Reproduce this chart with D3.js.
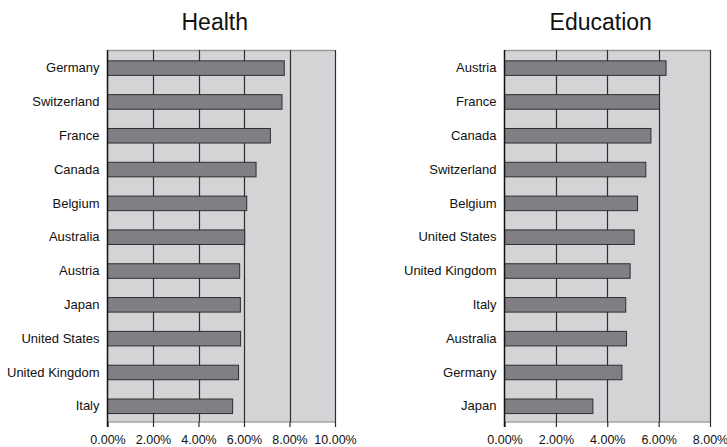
<!DOCTYPE html>
<html>
<head>
<meta charset="utf-8">
<script src="https://cdn.jsdelivr.net/npm/d3@7"></script>
<style>
  html, body { margin: 0; padding: 0; background: #fff; }
  svg { display: block; }
  text { font-family: "Liberation Sans", Arial, sans-serif; fill: #111; }
</style>
</head>
<body>
<svg id="chart" width="727" height="447"></svg>
<script>
// Spending as a share of GDP (%), by country
const healthCountries = ["Germany", "Switzerland", "France", "Canada", "Belgium", "Australia",
  "Austria", "Japan", "United States", "United Kingdom", "Italy"];
const healthValues = [7.77, 7.67, 7.16, 6.53, 6.12, 6.03, 5.81, 5.84, 5.85, 5.76, 5.50];
const healthTicks = [0, 2, 4, 6, 8, 10];

const educationCountries = ["Austria", "France", "Canada", "Switzerland", "Belgium", "United States",
  "United Kingdom", "Italy", "Australia", "Germany", "Japan"];
const educationValues = [6.29, 6.03, 5.70, 5.50, 5.18, 5.05, 4.89, 4.72, 4.75, 4.57, 3.44];
const educationTicks = [0, 2, 4, 6, 8];

const svg = d3.select("#chart");
const fmt = d => d3.format(".2f")(d) + "%";

function panel(opts) {
  const { title, countries, values, ticks, x0, x1 } = opts;
  const top = 50, bottom = 422;
  const g = svg.append("g");

  const x = d3.scaleLinear().domain([0, d3.max(ticks)]).range([x0, x1]);
  const y = d3.scaleBand().domain(countries).range([top + 1.2, bottom + 1.2]).paddingInner(0.57).paddingOuter(0.285);

  // plot background
  g.append("rect")
    .attr("x", x0).attr("y", top)
    .attr("width", x1 - x0).attr("height", bottom - top)
    .attr("fill", "#d3d4d6");

  // frame top / bottom
  g.append("line").attr("x1", x0).attr("x2", x1).attr("y1", top + 0.5).attr("y2", top + 0.5)
    .attr("stroke", "#9a9a9c").attr("stroke-width", 1.5);
  g.append("line").attr("x1", x0).attr("x2", x1).attr("y1", bottom).attr("y2", bottom)
    .attr("stroke", "#a4a4a6").attr("stroke-width", 1.5);

  // vertical gridlines
  g.selectAll("line.grid").data(ticks.slice(1)).join("line")
    .attr("class", "grid")
    .attr("x1", d => Math.round(x(d)) + 0.5).attr("x2", d => Math.round(x(d)) + 0.5)
    .attr("y1", top).attr("y2", bottom)
    .attr("stroke", "#2e2e30").attr("stroke-width", 1.2);

  // bars
  g.selectAll("rect.bar").data(countries).join("rect")
    .attr("class", "bar")
    .attr("x", x(0))
    .attr("y", d => y(d))
    .attr("width", (d, i) => x(values[i]) - x(0))
    .attr("height", y.bandwidth())
    .attr("fill", "#808084")
    .attr("stroke", "#2e2e30")
    .attr("stroke-width", 1);

  // x axis
  const ax = g.append("g")
    .attr("transform", `translate(0,${bottom})`)
    .call(d3.axisBottom(x).tickValues(ticks).tickFormat(fmt).tickSize(5).tickSizeOuter(0).tickPadding(8));
  ax.select(".domain").remove();
  ax.selectAll(".tick line").attr("stroke", "#2e2e30").attr("stroke-width", 1.2);
  ax.selectAll(".tick text").attr("font-size", 12.5).attr("fill", "#111")
    .attr("font-family", "'Liberation Sans', Arial, sans-serif");

  // y axis (category labels)
  const ay = g.append("g")
    .attr("transform", `translate(${x0},0)`)
    .call(d3.axisLeft(y).tickSize(0).tickPadding(8));
  ay.select(".domain").remove();
  ay.selectAll(".tick text").attr("font-size", 13).attr("fill", "#111")
    .attr("font-family", "'Liberation Sans', Arial, sans-serif");

  // left axis line
  g.append("line").attr("x1", x0).attr("x2", x0).attr("y1", top).attr("y2", bottom + 5)
    .attr("stroke", "#111").attr("stroke-width", 1.5);

  // panel title
  g.append("text")
    .attr("x", (x0 + x1) / 2 - 6.5).attr("y", 29.5)
    .attr("text-anchor", "middle")
    .attr("font-size", 23)
    .text(title);
}

panel({ title: "Health", countries: healthCountries, values: healthValues, ticks: healthTicks, x0: 107.5, x1: 335 });
panel({ title: "Education", countries: educationCountries, values: educationValues, ticks: educationTicks, x0: 504.5, x1: 710 });
</script>
</body>
</html>
